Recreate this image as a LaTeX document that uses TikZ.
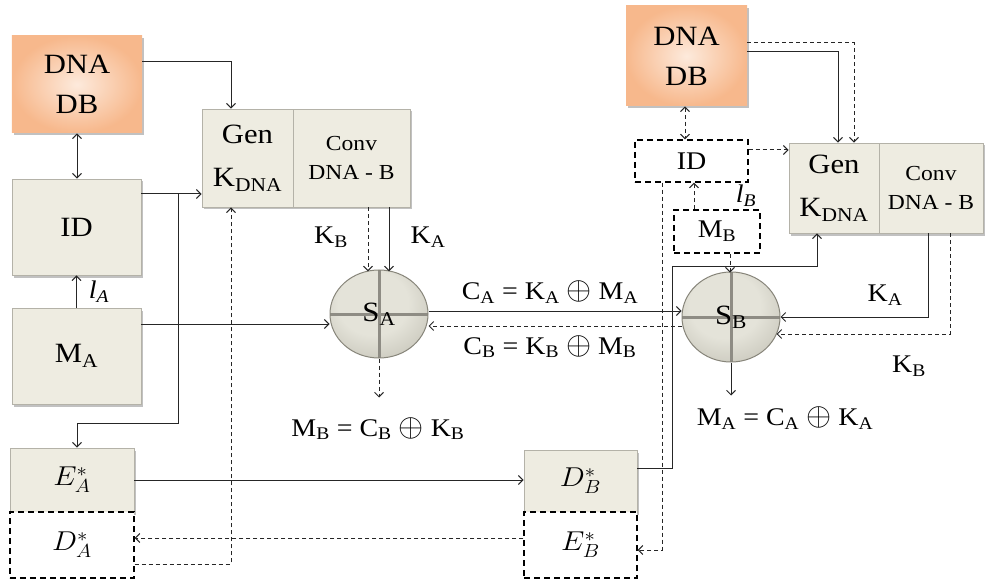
\documentclass[tikz,border=0pt]{standalone}
\usepackage{graphicx}
\usepackage{fontspec}
\setmainfont{Liberation Serif}[FakeStretch=1.1]
\usetikzlibrary{shapes.geometric,arrows.meta,shadows,calc}
\definecolor{boxfill}{HTML}{EEECE1}
\definecolor{boxline}{HTML}{B4B2A8}
\definecolor{dbout}{HTML}{F7B88C}
\definecolor{dbin}{HTML}{FDEADC}
\definecolor{sphlight}{HTML}{E4E3D9}
\definecolor{sphmid}{HTML}{BEBCB0}
\definecolor{sphdark}{HTML}{87857A}
\definecolor{sphcross}{HTML}{8E8C84}
\definecolor{linec}{HTML}{262626}
\pgfdeclareradialshading{sphshade}{\pgfpoint{-4bp}{8bp}}{color(0bp)=(sphlight); color(18bp)=(sphlight); color(40bp)=(sphmid); color(52bp)=(sphdark); color(75bp)=(sphdark)}
\newcommand\bigtxt{\fontsize{28}{40}\selectfont}
\newcommand\gentxt{\fontsize{28}{44}\selectfont}
\newcommand\convtxt{\fontsize{21.5}{29}\selectfont}
\newcommand\lbltxt{\fontsize{25.5}{28}\selectfont}
\newcommand\mathtxt{\fontsize{25}{28}\selectfont}
\newcommand\mth[1]{\scalebox{1.2}[1.1]{$#1$}}
\newcommand\xo{\raisebox{-0.5bp}{\scalebox{1.3}{$\oplus$}}}
\begin{document}
\begin{tikzpicture}[x=1bp,y=-1bp,
  box/.style={draw=boxline, fill=boxfill, line width=0.8bp, inner sep=0pt, align=center, font=\bigtxt,
    drop shadow={shadow xshift=2bp, shadow yshift=-2.5bp, opacity=0.35, fill=black!70}},
  dbnode/.style={box, draw=none, shading=radial, inner color=dbin, outer color=dbout},
  dbox/.style={draw=black, fill=white, dash pattern=on 6bp off 4bp, line width=1.3bp, inner sep=0pt, align=center, font=\bigtxt},
  ball/.style={ellipse, minimum width=98bp, minimum height=88bp, inner sep=0pt, draw=sphdark, line width=1bp,
    shade, shading=sphshade, font=\bigtxt,
    path picture={\draw[sphcross, line width=3bp] (path picture bounding box.north) -- (path picture bounding box.south)
      (path picture bounding box.west) -- (path picture bounding box.east);}},
  conn/.style={draw=linec, line width=1bp, -{Straight Barb[length=4.5bp,width=9bp]}},
  dconn/.style={conn, dash pattern=on 4bp off 3bp},
  bconn/.style={draw=linec, line width=1bp, {Straight Barb[length=4.5bp,width=9bp]}-{Straight Barb[length=4.5bp,width=9bp]}},
  lbl/.style={font=\lbltxt, inner sep=1pt}
]
\useasboundingbox (0,0) rectangle (989,581);

% ---- left side (A)
\node[dbnode, minimum width=130bp, minimum height=97bp] (dbA) at (77,84.5) {DNA\\DB};
\node[box, minimum width=129bp, minimum height=96bp] (idA) at (76.5,227) {ID};
\node[box, minimum width=129bp, minimum height=96bp] (mA) at (76.5,356) {M\textsubscript{A}};
\node[box, minimum width=124bp, minimum height=64bp, font=\mathtxt] (eA) at (72,480) {\mth{E_A^*}};
\node[dbox, minimum width=124bp, minimum height=66bp, font=\mathtxt] (dA) at (72,545) {\mth{D_A^*}};
\node[box, minimum width=91bp, minimum height=98bp, font=\gentxt] (genA) at (247.5,158) {Gen\\K\textsubscript{DNA}};
\node[box, minimum width=117bp, minimum height=98bp, font=\convtxt] (convA) at (351.5,158) {Conv\\DNA - B};
\node[ball] (sA) at (379,314) {\raisebox{4bp}{S\textsubscript{A}}};

% ---- right side (B)
\node[dbnode, minimum width=121bp, minimum height=100bp] (dbB) at (686.5,56) {DNA\\DB};
\node[dbox, minimum width=113bp, minimum height=42bp, font=\lbltxt] (idB) at (691.5,161) {ID};
\node[box, minimum width=90bp, minimum height=90bp, font=\gentxt] (genB) at (834,188) {Gen\\K\textsubscript{DNA}};
\node[box, minimum width=104bp, minimum height=90bp, font=\convtxt] (convB) at (931,188) {Conv\\DNA - B};
\node[dbox, minimum width=86bp, minimum height=43bp, font=\lbltxt] (mB) at (717,231.5) {M\textsubscript{B}};
\node[ball, minimum height=90bp] (sB) at (731,317) {\raisebox{3bp}{S\textsubscript{B}}};
\node[box, minimum width=113bp, minimum height=62bp, font=\mathtxt] (dB) at (580.5,481) {\mth{D_B^*}};
\node[dbox, minimum width=113bp, minimum height=66bp, font=\mathtxt] (eB) at (580.5,545) {\mth{E_B^*}};

% ---- connectors A
\draw[conn] ([yshift=22.5bp]dbA.east) -| ([xshift=-16.5bp]genA.north);
\draw[bconn] (dbA.south) -- (dbA.south |- idA.north);
\draw[conn] ([yshift=33bp]idA.east) -- ([yshift=33bp]idA.east -| genA.west);
\coordinate (jA) at (178,194);
\coordinate (jA2) at (178,423);
\draw[conn] (jA) -- (jA2) -| ([xshift=5bp]eA.north);
\draw[conn] (mA.north) -- (mA.north |- idA.south);
\draw[conn] ([yshift=32bp]mA.east) -- ([yshift=32bp]mA.east -| sA.west);
\draw[dconn] ([xshift=16.5bp]convA.south) -- ++(0,64);
\draw[conn] ([xshift=37.5bp]convA.south) -- ++(0,64);
\draw[conn] ([yshift=3bp]sA.east) -- ([yshift=3bp]sA.east -| sB.west);
\draw[dconn] ([yshift=-9bp]sB.west) -- ([yshift=-9bp]sB.west -| sA.east);
\draw[dconn] (sA.south) -- ++(0,39);
\draw[conn] (eA.east) -- (eA.east -| dB.west);
\draw[dconn] ([yshift=7bp]eB.west) -- ([yshift=7bp]eB.west -| dA.east);
\draw[dconn] ([yshift=-19bp]dA.east) -| ([xshift=-16.5bp]genA.south);

% ---- connectors B
\draw[conn] ([yshift=4bp]dbB.east) -| ([xshift=4bp]genB.north);
\draw[dconn] ([yshift=13bp]dbB.east) -| ([xshift=20bp]genB.north);
\draw[bconn, dash pattern=on 4bp off 3bp] ([xshift=-1.5bp]dbB.south) -- ([xshift=-1.5bp]dbB.south |- idB.north);
\draw[dconn] ([yshift=11bp]idB.east) -- ([yshift=11bp]idB.east -| genB.west);
\draw[dconn] ([xshift=-23bp]mB.north) -- ([xshift=-23bp]mB.north |- idB.south);
\draw[dconn] ([xshift=13bp]mB.south) -- ++(0,19);
\draw[conn] ([xshift=-3bp]convB.south) |- (sB.east);
\draw[dconn] ([xshift=19bp]convB.south) |- ([shift={(-4bp,-17bp)}]sB.east);
\draw[conn] (sB.south) -- ++(0,33);
\coordinate (rB) at (672,266);
\draw[conn] ([yshift=13bp]dB.east) -| (rB) -| ([xshift=-17bp]genB.south);
\draw[dconn] ([xshift=-29.5bp]idB.south) |- ([yshift=-5bp]eB.east);

% ---- labels
\node[lbl] (lA) at (99,292) {\textit{l}\textsubscript{\textit{A}}};
\node[lbl] (lB) at (746,196) {\textit{l}\textsubscript{\textit{B}}};
\node[lbl] (kBa) at (331,237) {K\textsubscript{B}};
\node[lbl] (kAa) at (428,237) {K\textsubscript{A}};
\node[lbl] (cA) at (550,292) {C\textsubscript{A} = K\textsubscript{A} \xo{} M\textsubscript{A}};
\node[lbl] (cB) at (550,347) {C\textsubscript{B} = K\textsubscript{B} \xo{} M\textsubscript{B}};
\node[lbl] (mBeq) at (378,429) {M\textsubscript{B} = C\textsubscript{B} \xo{} K\textsubscript{B}};
\node[lbl] (kAb) at (885,295) {K\textsubscript{A}};
\node[lbl] (kBb) at (909,366) {K\textsubscript{B}};
\node[lbl] (mAeq) at (785,418) {M\textsubscript{A} = C\textsubscript{A} \xo{} K\textsubscript{A}};
\end{tikzpicture}
\end{document}
